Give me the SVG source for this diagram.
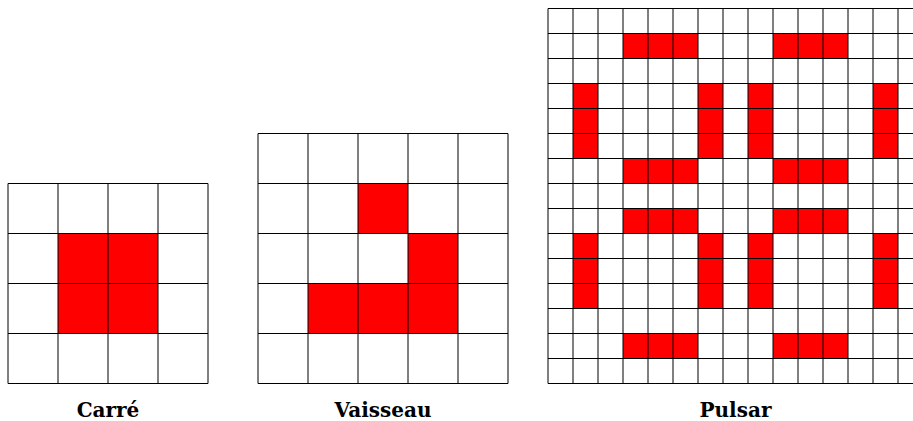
<svg xmlns="http://www.w3.org/2000/svg" width="913" height="421" viewBox="0 0 913 421">
<style>
.bg{fill:#ffffff}
.on{fill:#ff0000}
.grid{fill:none;stroke:#000000;stroke-width:1}
.lbl{font-family:"DejaVu Serif","Liberation Serif",serif;font-weight:bold;font-size:20px;fill:#000000;text-anchor:middle}
</style>
<rect x="0" y="0" width="913" height="421" fill="#ffffff"/>
<g id="carre">
<rect class="on" x="58" y="233.5" width="100" height="100"/>
<path class="grid" d="M8 183.5V383.5M58 183.5V383.5M108 183.5V383.5M158 183.5V383.5M208 183.5V383.5M8 183.5H208M8 233.5H208M8 283.5H208M8 333.5H208M8 383.5H208"/>
<text class="lbl" x="108" y="417">Carré</text>
</g>
<g id="vaisseau">
<rect class="on" x="358" y="183.5" width="50" height="50"/>
<rect class="on" x="408" y="233.5" width="50" height="50"/>
<rect class="on" x="308" y="283.5" width="150" height="50"/>
<path class="grid" d="M258 133.5V383.5M308 133.5V383.5M358 133.5V383.5M408 133.5V383.5M458 133.5V383.5M508 133.5V383.5M258 133.5H508M258 183.5H508M258 233.5H508M258 283.5H508M258 333.5H508M258 383.5H508"/>
<text class="lbl" x="383" y="417">Vaisseau</text>
</g>
<g id="pulsar">
<rect class="on" x="623" y="33.5" width="75" height="25"/>
<rect class="on" x="773" y="33.5" width="75" height="25"/>
<rect class="on" x="623" y="158.5" width="75" height="25"/>
<rect class="on" x="773" y="158.5" width="75" height="25"/>
<rect class="on" x="623" y="208.5" width="75" height="25"/>
<rect class="on" x="773" y="208.5" width="75" height="25"/>
<rect class="on" x="623" y="333.5" width="75" height="25"/>
<rect class="on" x="773" y="333.5" width="75" height="25"/>
<rect class="on" x="573" y="83.5" width="25" height="75"/>
<rect class="on" x="698" y="83.5" width="25" height="75"/>
<rect class="on" x="748" y="83.5" width="25" height="75"/>
<rect class="on" x="873" y="83.5" width="25" height="75"/>
<rect class="on" x="573" y="233.5" width="25" height="75"/>
<rect class="on" x="698" y="233.5" width="25" height="75"/>
<rect class="on" x="748" y="233.5" width="25" height="75"/>
<rect class="on" x="873" y="233.5" width="25" height="75"/>
<path class="grid" d="M548 8.5V383.5M573 8.5V383.5M598 8.5V383.5M623 8.5V383.5M648 8.5V383.5M673 8.5V383.5M698 8.5V383.5M723 8.5V383.5M748 8.5V383.5M773 8.5V383.5M798 8.5V383.5M823 8.5V383.5M848 8.5V383.5M873 8.5V383.5M898 8.5V383.5M923 8.5V383.5M548 8.5H923M548 33.5H923M548 58.5H923M548 83.5H923M548 108.5H923M548 133.5H923M548 158.5H923M548 183.5H923M548 208.5H923M548 233.5H923M548 258.5H923M548 283.5H923M548 308.5H923M548 333.5H923M548 358.5H923M548 383.5H923"/>
<text class="lbl" x="735.5" y="417">Pulsar</text>
</g>
</svg>
